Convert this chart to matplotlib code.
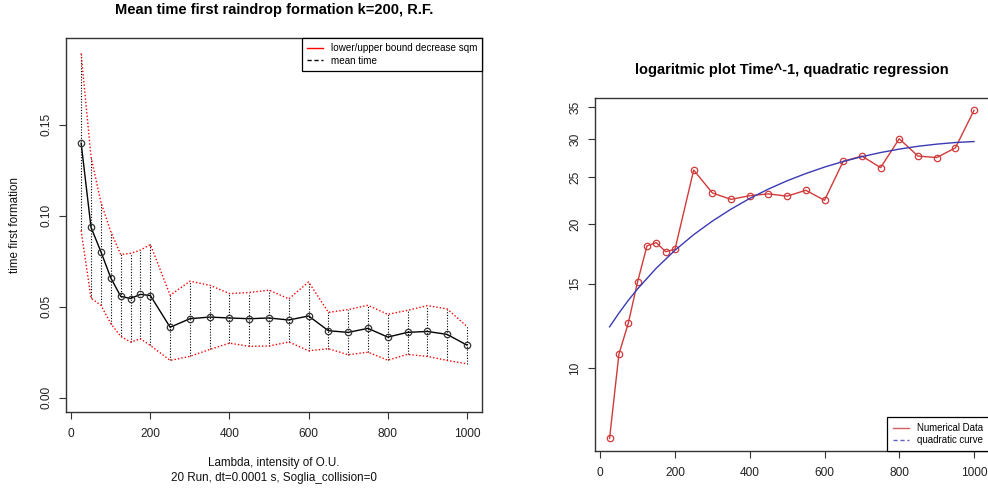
import matplotlib
matplotlib.use("Agg")
import matplotlib.pyplot as plt
from matplotlib.lines import Line2D
from matplotlib.ticker import FixedLocator, NullLocator, FixedFormatter

plt.rcParams['font.family'] = ['Liberation Sans', 'DejaVu Sans']

# ---------------- data ----------------
lam = [25, 50, 75, 100, 125, 150, 175, 200, 250, 300, 350, 400, 450, 500,
       550, 600, 650, 700, 750, 800, 850, 900, 950, 1000]
mean_time = [0.140, 0.0937, 0.0803, 0.0659, 0.0558, 0.0546, 0.0569, 0.0562,
             0.0388, 0.0435, 0.0444, 0.0439, 0.0435, 0.0439, 0.0428, 0.0450,
             0.0369, 0.0360, 0.0382, 0.0334, 0.0360, 0.0365, 0.0349, 0.0290]
upper = [0.1893, 0.1325, 0.1075, 0.0913, 0.0788, 0.0794, 0.0812, 0.0843,
         0.0564, 0.0641, 0.0619, 0.0573, 0.0579, 0.0592, 0.0544, 0.0637,
         0.0470, 0.0485, 0.0509, 0.0459, 0.0481, 0.0507, 0.0489, 0.0393]
lower = [0.0920, 0.0548, 0.0509, 0.0408, 0.0338, 0.0307, 0.0325, 0.0288,
         0.0206, 0.0228, 0.0266, 0.0301, 0.0283, 0.0285, 0.0307, 0.0259,
         0.0270, 0.0237, 0.0251, 0.0207, 0.0239, 0.0228, 0.0206, 0.0187]
inv_time = [7.14, 10.70, 12.41, 15.15, 17.99, 18.28, 17.50, 17.70, 25.9, 23.2,
            22.5, 22.9, 23.1, 22.85, 23.5, 22.4, 27.0, 27.7, 26.2, 30.1, 27.7,
            27.5, 28.8, 34.5]
curve_x = [25, 50, 75, 100, 150, 200, 250, 300, 350, 400, 450, 500, 550, 600,
           650, 700, 750, 800, 850, 900, 950, 1000]
curve_y = [12.20, 13.03, 13.85, 14.64, 16.17, 17.62, 18.99, 20.27, 21.47,
           22.60, 23.64, 24.60, 25.47, 26.27, 26.99, 27.62, 28.17, 28.64,
           29.03, 29.33, 29.56, 29.70]

left_yticks = [0.00, 0.05, 0.10, 0.15]
left_ytick_labels = ["0.00", "0.05", "0.10", "0.15"]
xticks = [0, 200, 400, 600, 800, 1000]
right_yticks = [10, 15, 20, 25, 30, 35]

W, H = 988, 491
fig = plt.figure(figsize=(W / 100, H / 100), dpi=100)


def box(l, t, r, b):
    return [l / W, 1 - b / H, (r - l) / W, (b - t) / H]


FS_TICK = 8.6
FRAME = '#333333'


def style(ax):
    for s in ax.spines.values():
        s.set_color(FRAME)
        s.set_linewidth(1.0)
    ax.tick_params(axis='both', direction='out', length=4.8, width=0.8,
                   color=FRAME, labelsize=FS_TICK, labelcolor='#222222')
    ax.tick_params(axis='x', pad=7)
    ax.tick_params(axis='y', pad=5, labelrotation=90)
    for lab in ax.get_yticklabels():
        lab.set_va('center')


# ---------------- left plot ----------------
ax1 = fig.add_axes(box(65.7, 38.3, 482.3, 411.7))
ax1.vlines(lam, lower, upper, colors='black', linestyles=(0, (1, 1.5)), linewidth=0.8)
ax1.plot(lam, upper, color='red', linestyle=(0, (1, 1.5)), linewidth=1.0)
ax1.plot(lam, lower, color='red', linestyle=(0, (1, 1.5)), linewidth=1.0)
ax1.plot(lam, mean_time, color='black', linewidth=1.0, marker='o', markersize=4.6,
         markerfacecolor='none', markeredgecolor='#333333', markeredgewidth=0.9)
ax1.set_xlim(-14, 1039)
ax1.set_ylim(-0.0076, 0.1976)
ax1.xaxis.set_major_locator(FixedLocator(xticks))
ax1.yaxis.set_major_locator(FixedLocator(left_yticks))
ax1.yaxis.set_major_formatter(FixedFormatter(left_ytick_labels))
style(ax1)

leg1 = ax1.legend(handles=[Line2D([], [], color='red', lw=1.0),
                           Line2D([], [], color='black', lw=1.0, ls=(0, (3, 2)))],
                  labels=['lower/upper bound decrease sqm', 'mean time'],
                  loc='upper right', borderaxespad=0, fancybox=False,
                  edgecolor='black', framealpha=1, fontsize=7.1,
                  handlelength=1.6, handletextpad=0.8, borderpad=0.5,
                  labelspacing=0.25)
leg1.get_frame().set_linewidth(0.9)

fig.text(274 / W, 1 - 10 / H, 'Mean time first raindrop formation k=200, R.F.',
         ha='center', va='center', fontsize=10.5, fontweight='bold')
fig.text(15 / W, 1 - 225 / H, 'time first formation', rotation=90,
         ha='center', va='center', fontsize=8.4, color='#111111')
fig.text(274 / W, 1 - 463.3 / H, 'Lambda, intensity of O.U.',
         ha='center', va='center', fontsize=8.4, color='#111111')
fig.text(274 / W, 1 - 478.3 / H, '20 Run, dt=0.0001 s, Soglia_collision=0',
         ha='center', va='center', fontsize=8.4, color='#111111')

# ---------------- right plot ----------------
ax2 = fig.add_axes(box(595, 97.7, 988.6, 451))
ax2.plot(lam, inv_time, color='#D03A3A', linewidth=1.0, marker='o', markersize=4.6,
         markerfacecolor='none', markeredgecolor='#D03A3A', markeredgewidth=0.9)
ax2.plot(curve_x, curve_y, color='#3A3AB4', linewidth=1.0)
ax2.set_yscale('log')
ax2.set_xlim(-14, 1039)
ax2.set_ylim(6.72, 36.66)
ax2.xaxis.set_major_locator(FixedLocator(xticks))
ax2.yaxis.set_major_locator(FixedLocator(right_yticks))
ax2.yaxis.set_major_formatter(FixedFormatter([str(v) for v in right_yticks]))
ax2.yaxis.set_minor_locator(NullLocator())
style(ax2)

leg2 = ax2.legend(handles=[Line2D([], [], color='#D06060', lw=1.0),
                           Line2D([], [], color='#6060C8', lw=1.0, ls=(0, (3, 2)))],
                  labels=['Numerical Data', 'quadratic curve'],
                  loc='lower right', borderaxespad=0, fancybox=False,
                  edgecolor='black', framealpha=1, fontsize=6.9,
                  handlelength=1.7, handletextpad=0.8, borderpad=0.6,
                  labelspacing=0.25)
leg2.get_frame().set_linewidth(0.9)

fig.text(791.5 / W, 1 - 70 / H, 'logaritmic plot Time^-1, quadratic regression',
         ha='center', va='center', fontsize=10.5, fontweight='bold')

fig.savefig('out.png', dpi=100)
